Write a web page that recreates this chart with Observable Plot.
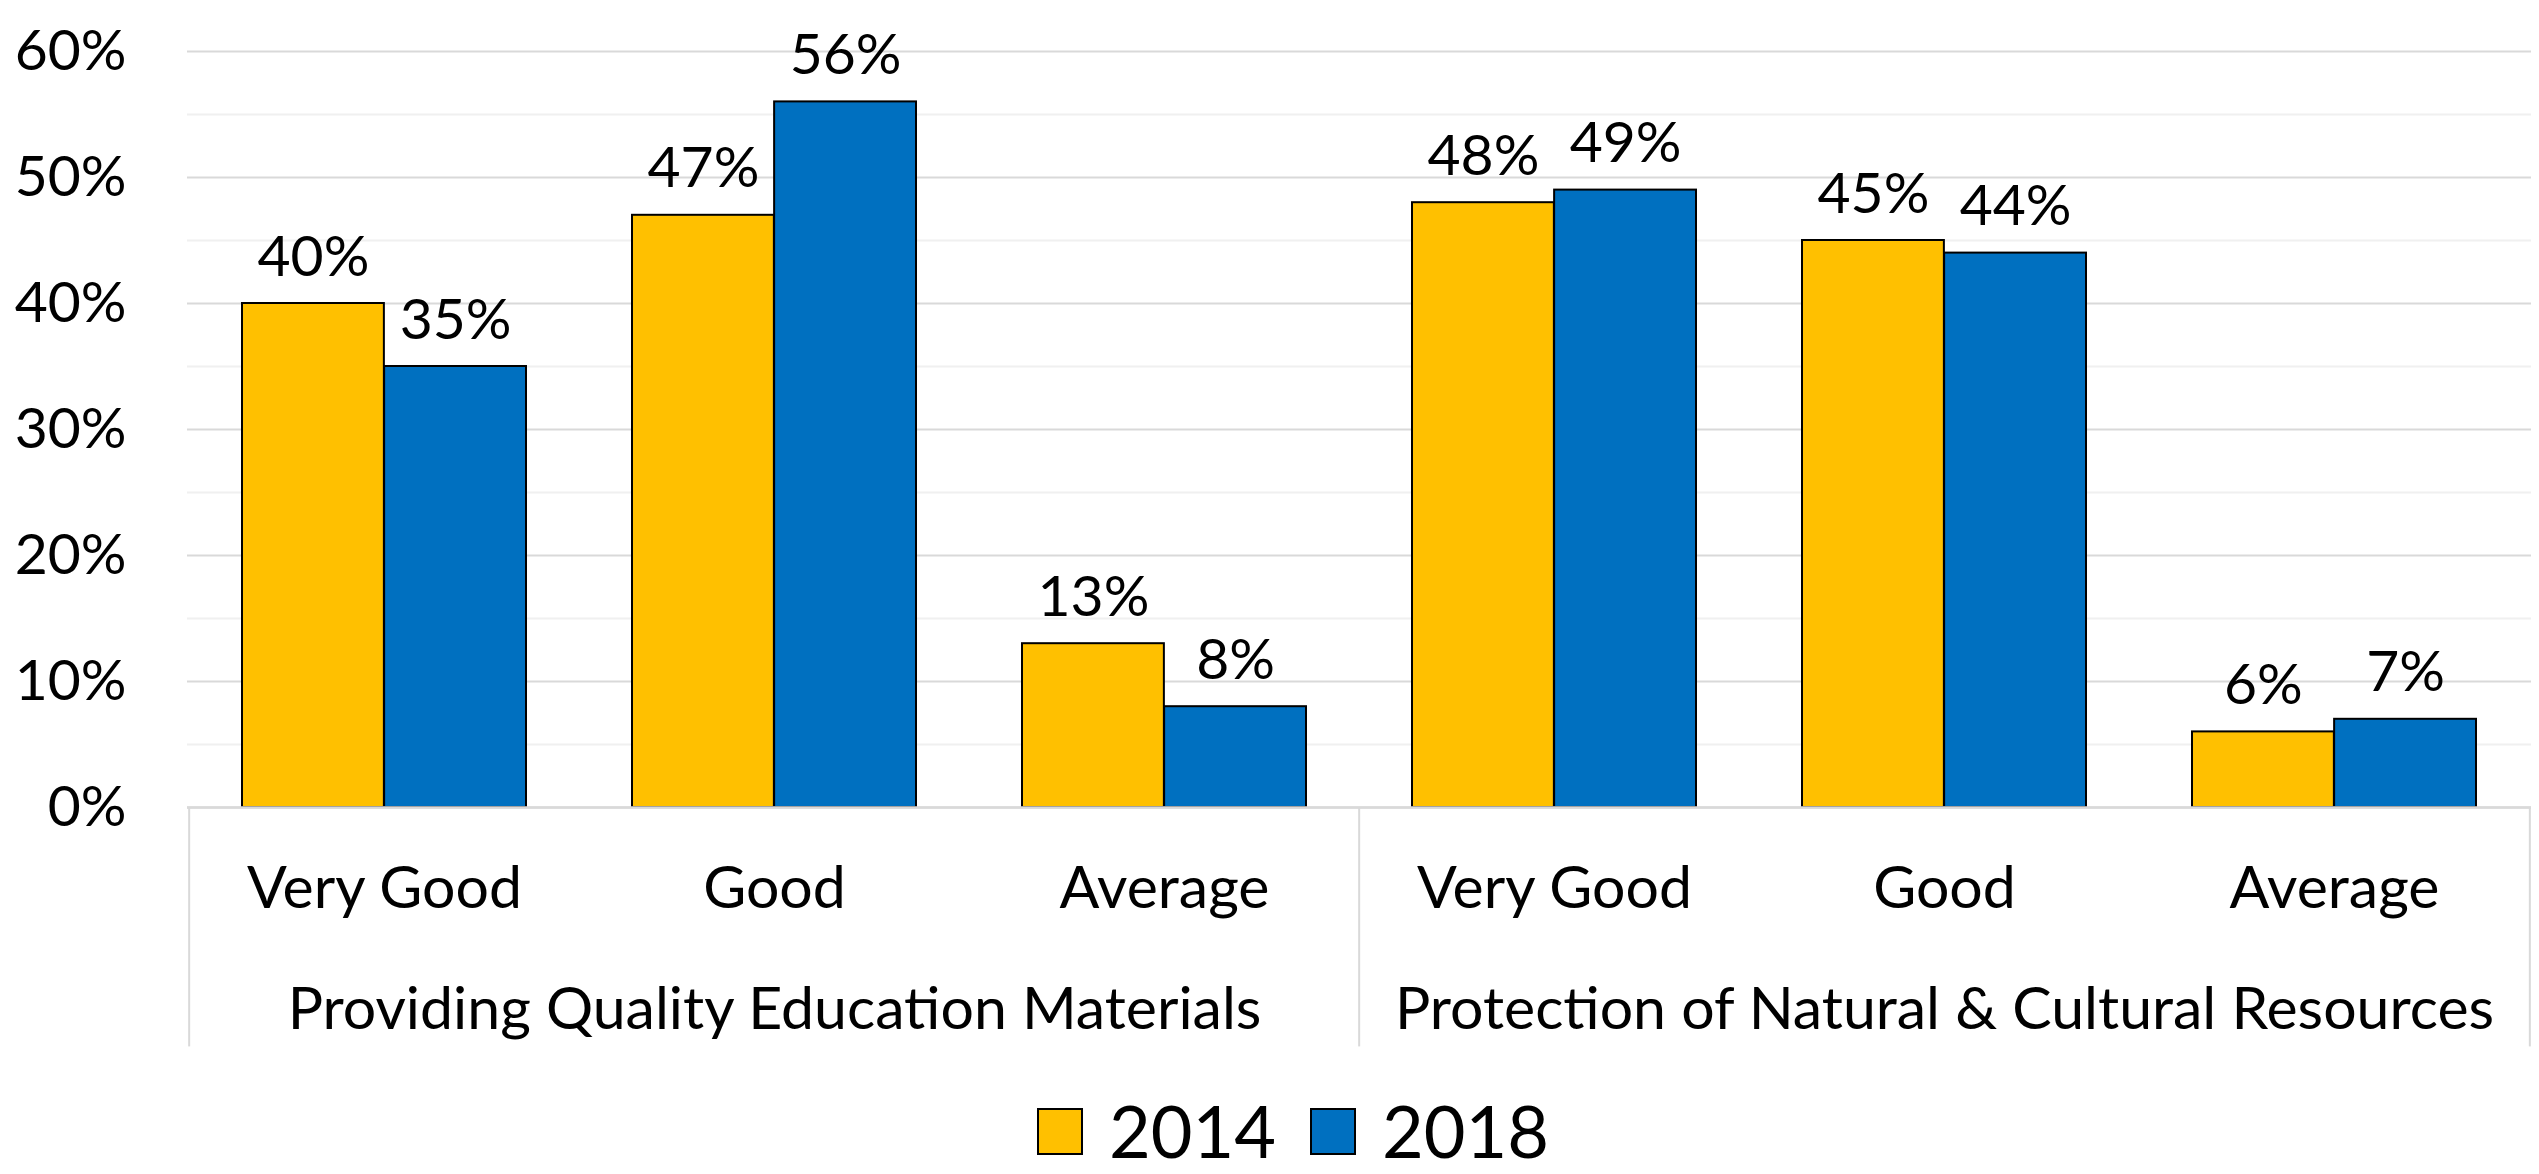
<!DOCTYPE html>
<html><head><meta charset="utf-8">
<script src="https://cdn.jsdelivr.net/npm/d3@7"></script>
<script src="https://cdn.jsdelivr.net/npm/@observablehq/plot@0.6"></script>
<style>
html,body{margin:0;padding:0;background:#fff;}
#chart{position:relative;width:2539px;height:1174px;overflow:hidden;font-family:Lato,sans-serif;background:#fff;}
#chart svg{display:block;}
#legend{position:absolute;top:1102px;left:1037px;display:flex;align-items:flex-start;font-size:72px;line-height:56px;color:#000;font-family:Lato,sans-serif;}
.sw{width:46px;height:47px;box-sizing:border-box;border:2px solid #000;margin-top:6px;margin-right:26px;}
.lab{margin-right:34px;}
</style></head><body><div id="chart"></div>
<script>
const groups = ["Providing Quality Education Materials", "Protection of Natural & Cultural Resources"];
const ratings = ["Very Good", "Good", "Average"];
const years = ["2014", "2018"];
const values2014 = [40, 47, 13, 48, 45, 6];
const values2018 = [35, 56, 8, 49, 44, 7];
const yTicks = [0, 10, 20, 30, 40, 50, 60];
const yMinorTicks = [5, 15, 25, 35, 45, 55];
const colors = ["#FFC000", "#0070C0"];

const keys = groups.flatMap(g => ratings.map(r => g + "|" + r));
const rows = keys.map((k, i) => ({key: k, v2014: values2014[i], v2018: values2018[i]}));
const groupRows = groups.map((g, i) => ({name: g, mid: keys[i * ratings.length + 1]}));
const groupStarts = groups.map((g, i) => keys[i * ratings.length]);
const lastKey = [keys[keys.length - 1]];

const W = 2539, H = 1090, mL = 187, mR = 8, mT = 51, mB = 283;
const pI = 0.2724, pO = 0.1362;
const step = (W - mL - mR) / (keys.length - pI + 2 * pO);
const bw = step * (1 - pI);
const FSN = 57, FSW = 59;

const chart = Plot.plot({
  width: W, height: H,
  marginLeft: mL, marginRight: mR, marginTop: mT, marginBottom: mB,
  style: {fontFamily: "Lato, sans-serif", fontSize: FSN + "px", color: "#000", background: "#fff"},
  x: {domain: keys, paddingInner: pI, paddingOuter: pO, label: null},
  y: {domain: [0, 60], label: null},
  marks: [
    Plot.ruleY(yMinorTicks, {stroke: "#f0f0f0", strokeWidth: 2}),
    Plot.ruleY(yTicks, {stroke: "#d9d9d9", strokeWidth: 2}),
    Plot.barY(rows, {x: "key", y: "v2014", fill: colors[0], stroke: "#000", strokeWidth: 2, insetRight: bw / 2}),
    Plot.barY(rows, {x: "key", y: "v2018", fill: colors[1], stroke: "#000", strokeWidth: 2, insetLeft: bw / 2}),
    Plot.ruleY([0], {stroke: "#d9d9d9", strokeWidth: 2.5}),
    Plot.ruleX(groupStarts, {x: d => d, dx: -step / 2, y1: 0, y2: -19, stroke: "#d9d9d9", strokeWidth: 2}),
    Plot.ruleX(lastKey, {x: d => d, dx: step / 2, y1: 0, y2: -19, stroke: "#d9d9d9", strokeWidth: 2}),
    Plot.text(rows, {x: "key", y: "v2014", text: d => d.v2014 + "%", dx: -bw / 4, dy: -28, lineAnchor: "bottom", fontSize: FSN, fill: "#000"}),
    Plot.text(rows, {x: "key", y: "v2018", text: d => d.v2018 + "%", dx: bw / 4, dy: -28, lineAnchor: "bottom", fontSize: FSN, fill: "#000"}),
    Plot.axisY({ticks: yTicks, tickSize: 0, tickPadding: 61, tickFormat: d => d + "%", fontSize: FSN, label: null}),
    Plot.axisX({tickSize: 0, tickPadding: 59, tickFormat: d => d.split("|")[1], fontSize: FSW, label: null}),
    Plot.text(groupRows, {x: "mid", text: "name", frameAnchor: "bottom", dy: 180, lineAnchor: "top", fontSize: FSW, fill: "#000"})
  ]
});
const root = document.getElementById("chart");
root.appendChild(chart);

const legend = document.createElement("div");
legend.id = "legend";
years.forEach((y, i) => {
  const sw = document.createElement("div");
  sw.className = "sw";
  sw.style.background = colors[i];
  const lab = document.createElement("div");
  lab.className = "lab";
  lab.textContent = y;
  legend.appendChild(sw);
  legend.appendChild(lab);
});
root.appendChild(legend);
</script>
</body></html>
